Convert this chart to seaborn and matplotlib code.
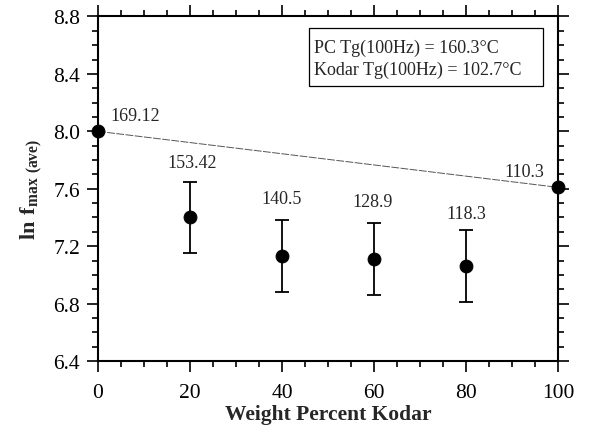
import matplotlib
matplotlib.use("Agg")
import matplotlib.pyplot as plt
from matplotlib.ticker import MultipleLocator, FormatStrFormatter
from matplotlib.patches import Rectangle
import seaborn as sns
import pandas as pd

# Data
weight_pct = [0, 20, 40, 60, 80, 100]
ln_fmax = [8.00, 7.40, 7.13, 7.11, 7.06, 7.61]
err = [0.0, 0.25, 0.25, 0.25, 0.25, 0.0]
tg_labels = ["169.12", "153.42", "140.5", "128.9", "118.3", "110.3"]
line_x = [0, 100]
line_y = [8.00, 7.61]
legend_lines = ["PC Tg(100Hz) = 160.3°C", "Kodar Tg(100Hz) = 102.7°C"]

sns.set_theme(style="ticks")
plt.rcParams['font.family'] = ['Liberation Serif', 'DejaVu Serif']
plt.rcParams['mathtext.fontset'] = 'custom'
plt.rcParams['mathtext.rm'] = 'Liberation Serif'
plt.rcParams['mathtext.bf'] = 'Liberation Serif:bold'

df = pd.DataFrame({"x": weight_pct, "y": ln_fmax, "e": err})
dline = pd.DataFrame({"x": line_x, "y": line_y})

fig = plt.figure(figsize=(5.91, 4.31), dpi=100)
ax = fig.add_axes([0.1658, 0.160, 0.944 - 0.1658, 0.9594 - 0.160])

sns.lineplot(data=dline, x="x", y="y", ax=ax, color="#555555", lw=0.7,
             linestyle=(0, (8, 1.5)), zorder=2)
eb = df[df.e > 0]
ax.errorbar(eb.x, eb.y, yerr=eb.e, fmt="none", ecolor="black", elinewidth=1.3,
            capsize=5, capthick=1.3, zorder=3)
sns.scatterplot(data=df, x="x", y="y", ax=ax, color="black", s=85,
                edgecolor="black", zorder=4, clip_on=False)

# Tg labels
offsets = {0: (8.0, 8.107), 20: (20.4, 7.786), 40: (40, 7.53), 60: (59.8, 7.51),
           80: (80, 7.43), 100: (92.8, 7.72)}
for xv, lab in zip(weight_pct, tg_labels):
    tx, ty = offsets[xv]
    ax.text(tx, ty, lab, ha="center", va="center", fontsize=13)

ax.set_xlim(0, 100)
ax.set_ylim(6.4, 8.8)
ax.xaxis.set_major_locator(MultipleLocator(20))
ax.xaxis.set_minor_locator(MultipleLocator(5))
ax.yaxis.set_major_locator(MultipleLocator(0.4))
ax.yaxis.set_minor_locator(MultipleLocator(0.1))
ax.yaxis.set_major_formatter(FormatStrFormatter("%.1f"))
ax.tick_params(which="both", direction="out", top=True, right=True,
               labeltop=False, labelright=False, width=1.2, colors="black")
ax.tick_params(which="major", length=8, labelsize=15.5)
ax.tick_params(axis="x", which="major", pad=8)
ax.tick_params(axis="y", which="major", pad=5)
ax.tick_params(which="minor", length=4)
for s in ax.spines.values():
    s.set_linewidth(1.5)
    s.set_color("black")

ax.set_xlabel("Weight Percent Kodar", fontsize=15.5, fontweight="bold", labelpad=1)
ax.set_ylabel(r"$\mathbf{ln\ f}_{\mathbf{max\ (ave)}}$", fontsize=16, labelpad=6)

# annotation box
ax.add_patch(Rectangle((0.4587, 0.798), 0.967 - 0.4587, 0.967 - 0.798,
                       transform=ax.transAxes, fc="white", ec="black", lw=0.9,
                       zorder=5))
ax.text(0.4696, 0.911, legend_lines[0], transform=ax.transAxes,
        ha="left", va="center", fontsize=13, zorder=6)
ax.text(0.4696, 0.848, legend_lines[1], transform=ax.transAxes,
        ha="left", va="center", fontsize=13, zorder=6)
fig.savefig("out.png", dpi=100)
